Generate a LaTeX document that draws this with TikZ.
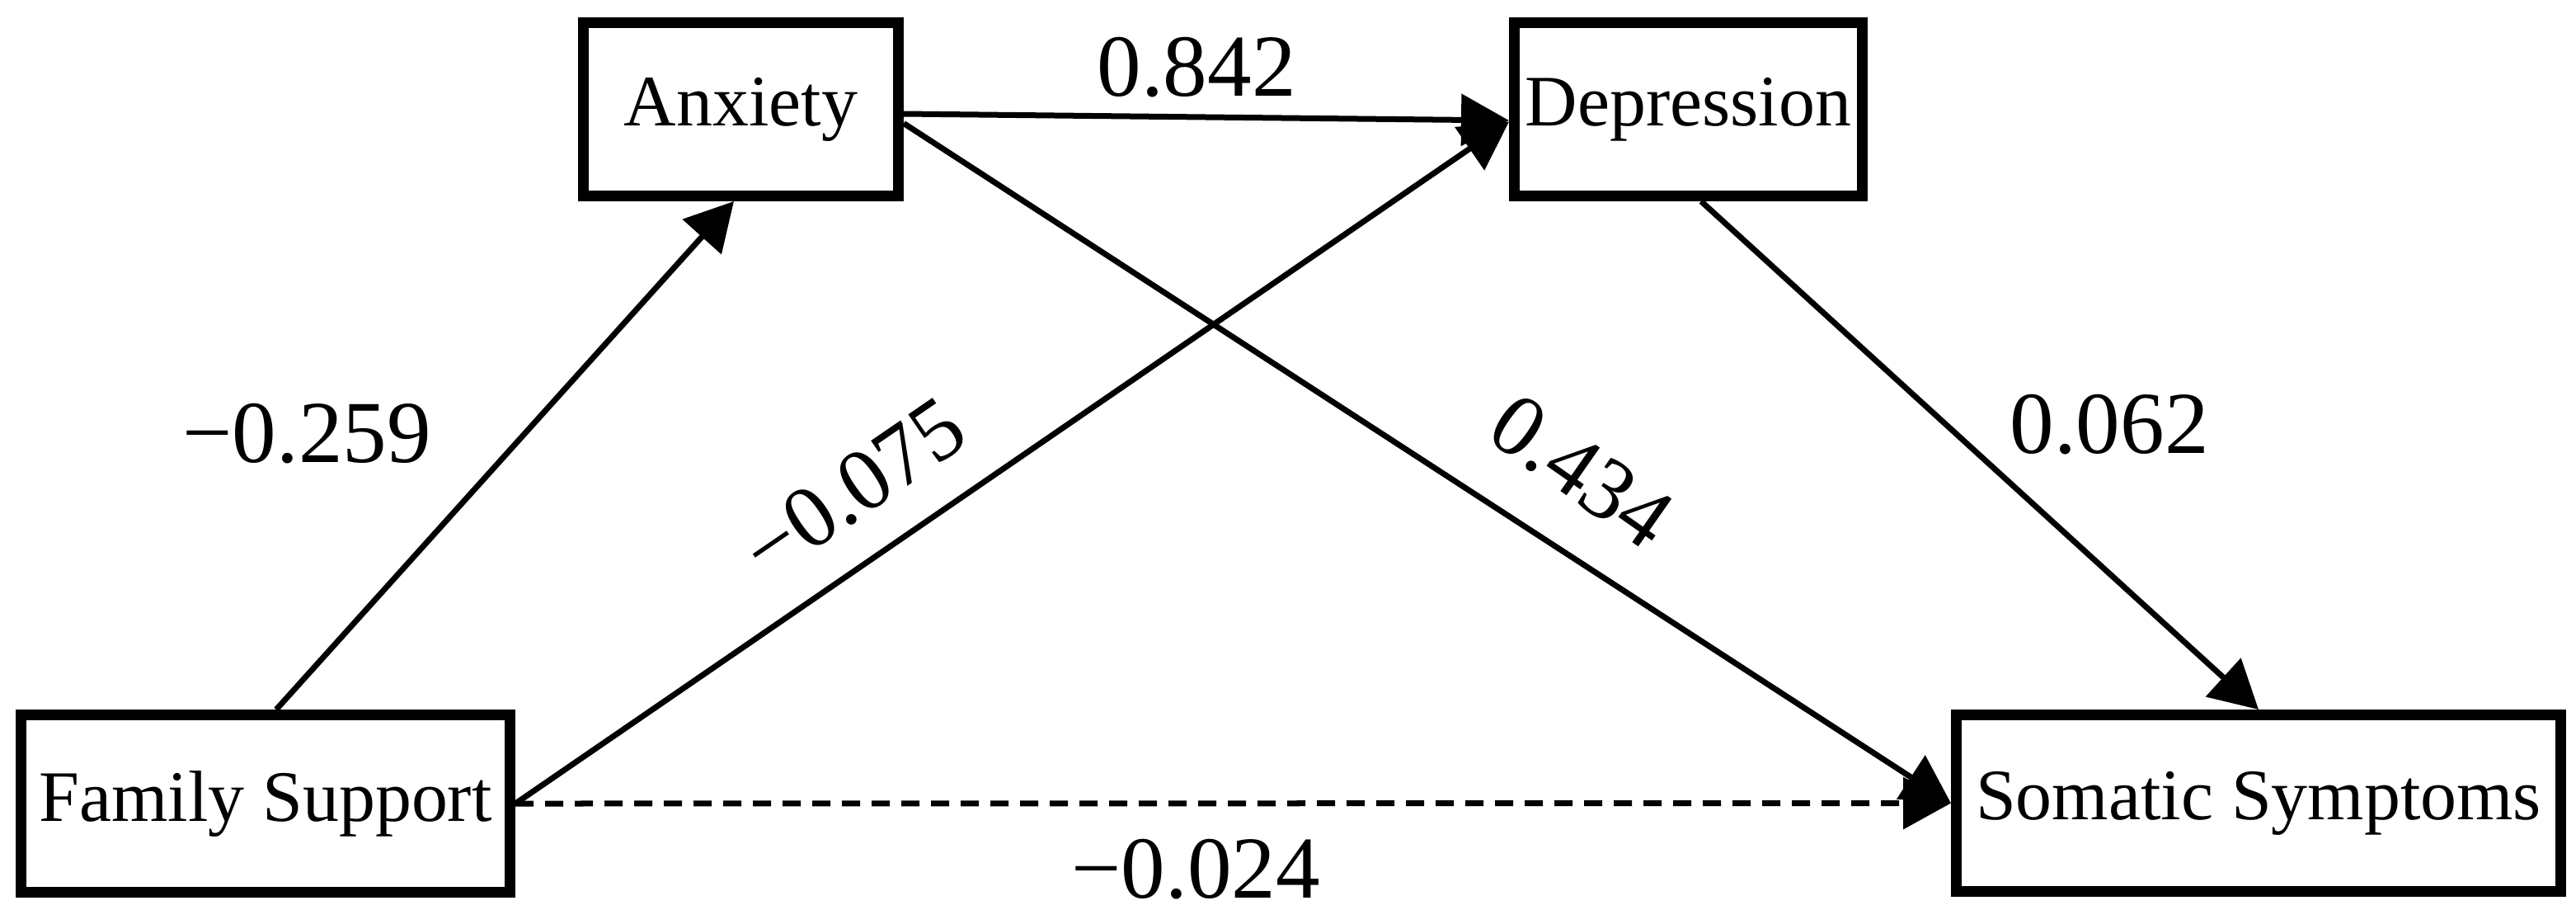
\documentclass[tikz,border=0pt]{standalone}
\usepackage{fontspec}
\setmainfont{Liberation Serif}
\usetikzlibrary{arrows.meta,calc}

\begin{document}
\begin{tikzpicture}[
    varbox/.style={draw, line width=0.13cm, minimum height=2.10cm, inner sep=0pt,
      font=\fontsize{25}{30}\selectfont},
    coef/.style={inner sep=0pt, font=\fontsize{30.5}{36}\selectfont},
    link/.style={line width=0.07cm, -{Triangle[length=0.58cm,width=0.62cm]}}
  ]
  \path[fill=white] (0,0) rectangle (31.24,-11.02);

  % variables
  \node[varbox, minimum width=3.82cm] (anx) at (8.985,-1.325) {Anxiety};
  \node[varbox, minimum width=4.22cm] (dep) at (20.475,-1.325) {Depression};
  \node[varbox, minimum width=5.93cm, minimum height=2.15cm] (fam) at (3.22,-9.74) {Family Support};
  \node[varbox, minimum width=7.33cm, minimum height=2.14cm] (som) at (27.39,-9.735) {Somatic Symptoms};

  % paths
  \draw[link] ($(fam.north)+(0.13,0)$) -- ($(anx.south)+(-0.085,0)$);
  \draw[link] (fam.east) -- ($(dep.west)+(0,-0.15)$);
  \draw[link] ($(anx.east)+(0,-0.055)$) -- ($(dep.west)+(0,-0.135)$);
  \draw[link] ($(anx.east)+(0,-0.17)$) -- (som.west);
  \draw[link] ($(dep.south)+(0.155,0)$) -- (som.north);
  \draw[link, dash pattern=on 0.22cm off 0.14cm] (fam.east) -- (som.west);

  % coefficients
  \node[coef] (b1) at (3.72,-5.26) {−0.259};
  \node[coef, rotate=34.4] (b2) at (10.35,-5.92) {−0.075};
  \node[coef] (b3) at (14.51,-0.82) {0.842};
  \node[coef, rotate=-35] (b4) at (19.18,-5.71) {0.434};
  \node[coef] (b5) at (25.58,-5.15) {0.062};
  \node[coef] (b6) at (14.50,-10.54) {−0.024};
\end{tikzpicture}
\end{document}
